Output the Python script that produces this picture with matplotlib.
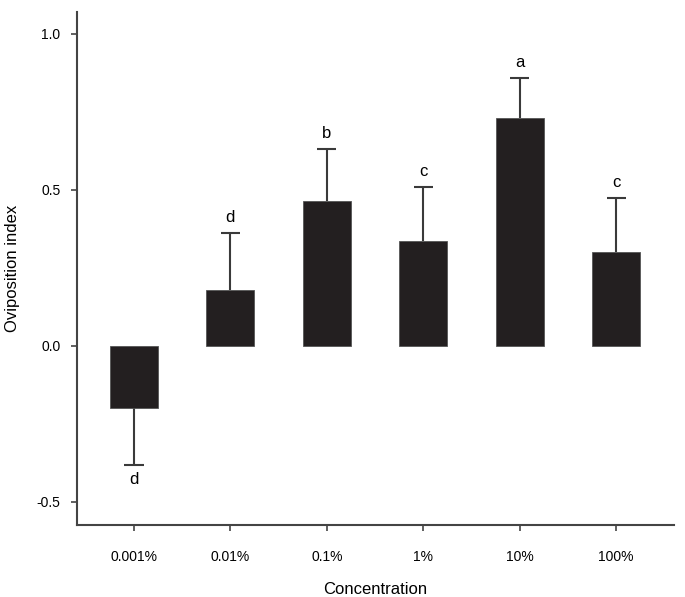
import matplotlib
matplotlib.use("Agg")
import matplotlib.pyplot as plt

# data
concentrations = ["0.001%", "0.01%", "0.1%", "1%", "10%", "100%"]
means = [-0.199, 0.179, 0.465, 0.335, 0.731, 0.301]
errors = [0.182, 0.184, 0.166, 0.175, 0.128, 0.174]
letters = ["d", "d", "b", "c", "a", "c"]

plt.rcParams['font.family'] = ['Liberation Sans', 'DejaVu Sans']

fig = plt.figure(figsize=(6.85, 5.97), dpi=100)
ax = fig.add_axes([0.1124, 0.1206, 0.8716, 0.8594])

x = list(range(len(concentrations)))
bar_color = "#231f20"
line_color = "#3a3a3a"
cap_half = 0.1

ax.bar(x, means, width=0.5, color=bar_color, edgecolor="#555555", linewidth=0.6, zorder=2)

# one-sided error bars pointing away from zero
for xi, m, e, lab in zip(x, means, errors, letters):
    tip = m + e if m >= 0 else m - e
    ax.vlines(xi, m, tip, color=line_color, linewidth=1.5, zorder=1)
    ax.hlines(tip, xi - cap_half, xi + cap_half, color=line_color, linewidth=1.5, zorder=1)
    if m >= 0:
        ax.text(xi, tip + 0.025, lab, ha="center", va="bottom", fontsize=12)
    else:
        ax.text(xi, tip - 0.022, lab, ha="center", va="top", fontsize=12)

ax.set_xlim(-0.59, 5.6)
ax.set_ylim(-0.574, 1.07)
ax.set_yticks([-0.5, 0.0, 0.5, 1.0])
ax.set_yticklabels(["-0.5", "0.0", "0.5", "1.0"])
ax.set_xticks(x)
ax.set_xticklabels(concentrations)

for side in ["top", "right"]:
    ax.spines[side].set_visible(False)
for side in ["left", "bottom"]:
    ax.spines[side].set_color("#444444")
    ax.spines[side].set_linewidth(1.5)

ax.tick_params(axis="both", colors="#444444", labelcolor="black", length=4,
               width=1.2, labelsize=10)
ax.tick_params(axis="x", pad=14)
ax.tick_params(axis="y", pad=8)

# axis titles placed like the original
fig.text(375 / 685, 1 - 590 / 597, "Concentration", fontsize=12, ha="center", va="center")
fig.text(12 / 685, 1 - 268 / 597, "Oviposition index", fontsize=12, ha="center",
         va="center", rotation=90)

fig.savefig("out.png", dpi=100)
